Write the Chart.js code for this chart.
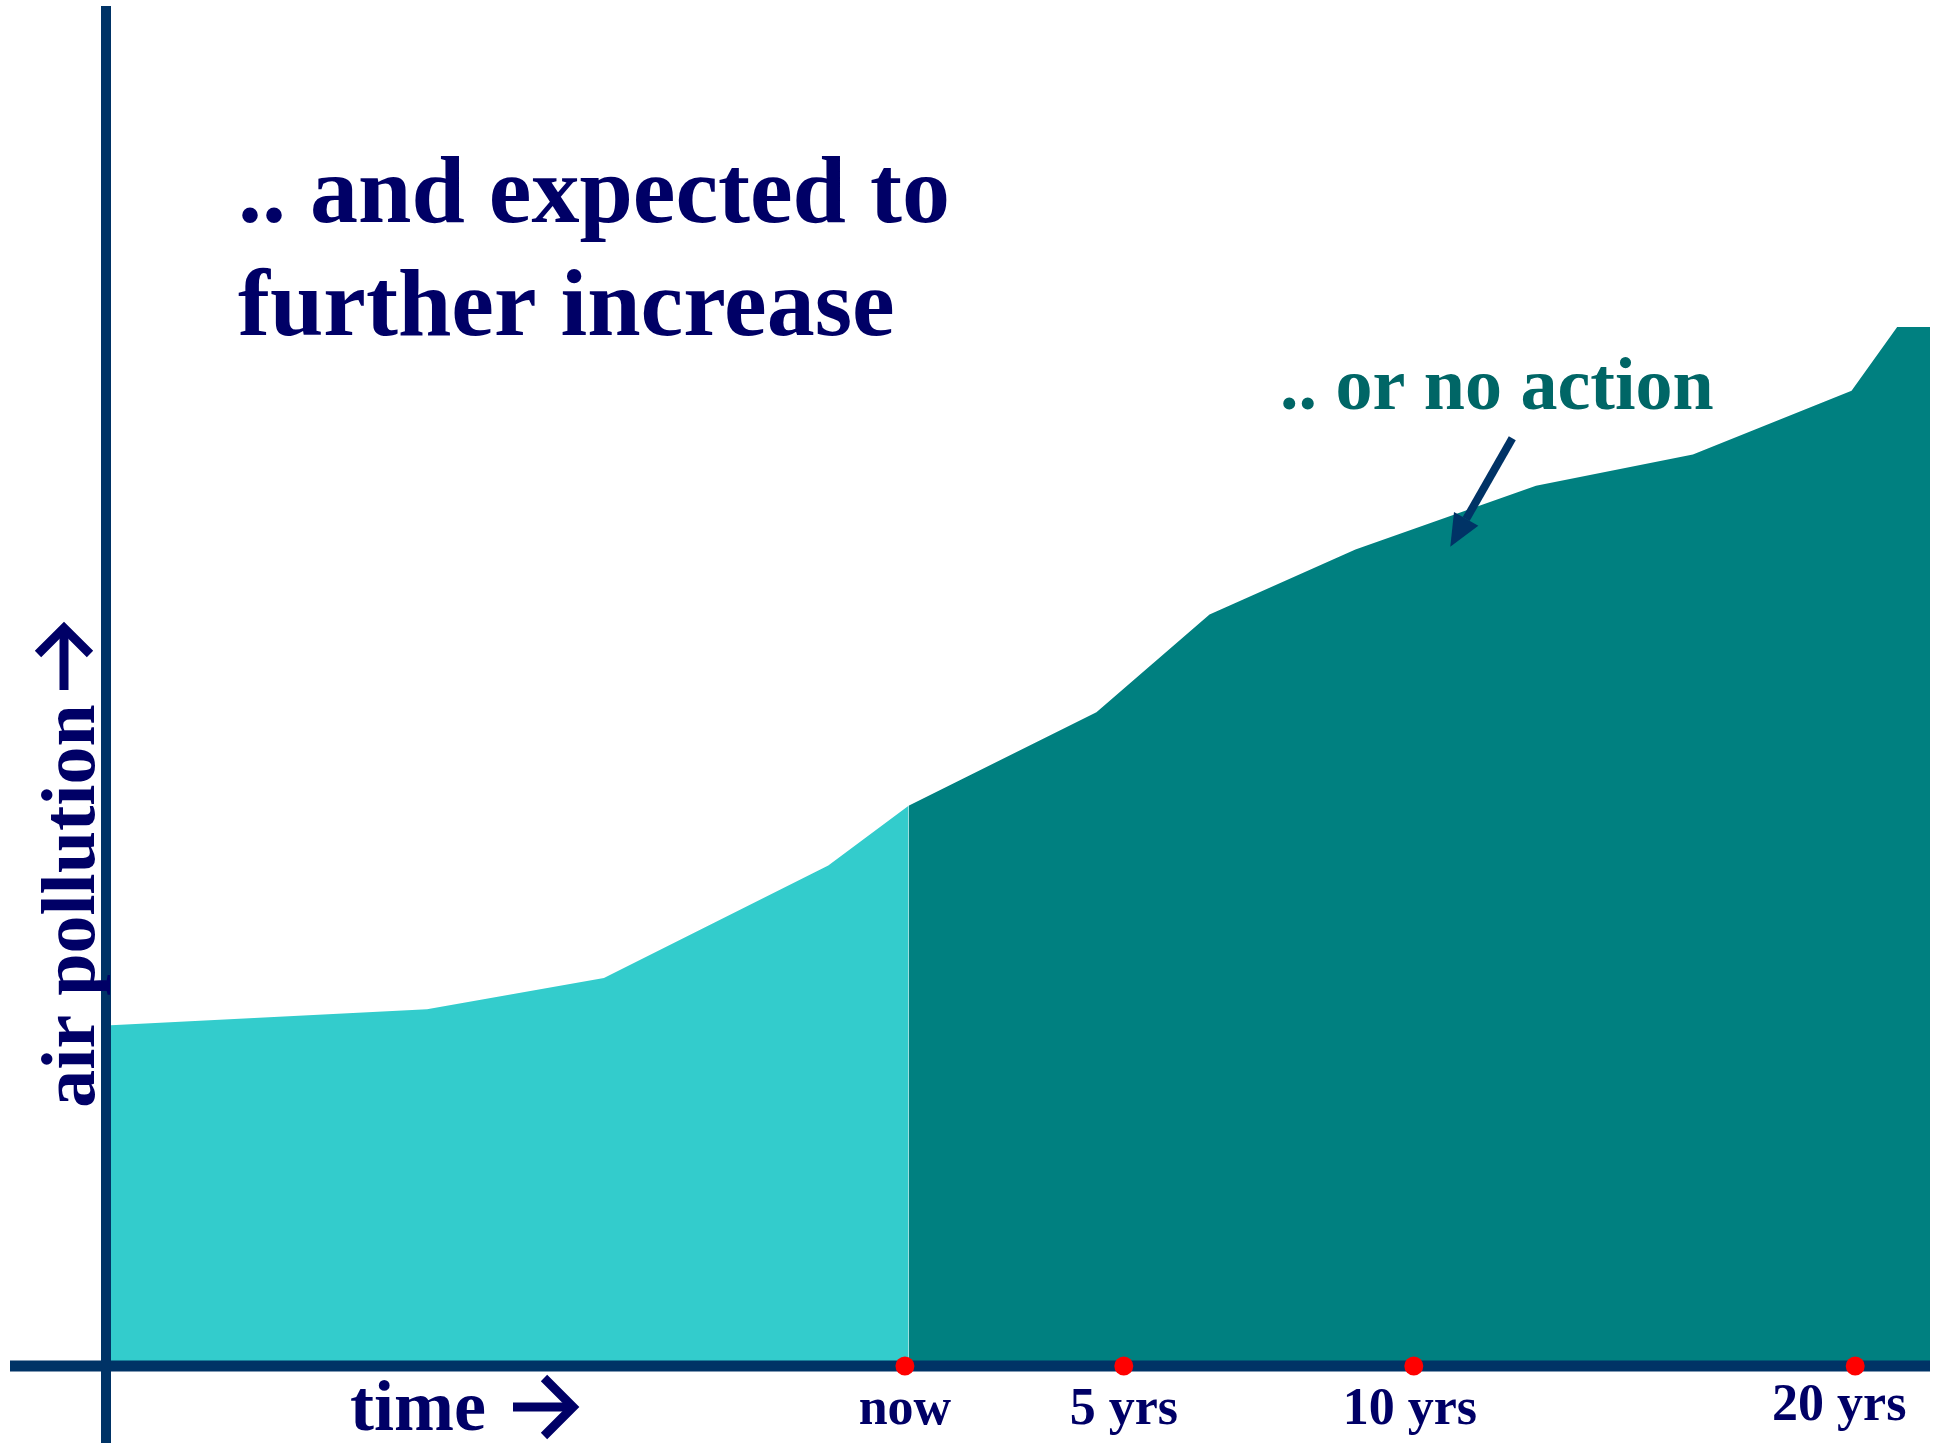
<!DOCTYPE html>
<html>
<head>
<meta charset="utf-8">
<script src="https://cdn.jsdelivr.net/npm/chart.js@4.4.0/dist/chart.umd.min.js"></script>
<style>
html, body { margin: 0; padding: 0; background: #fff; }
</style>
</head>
<body>
<canvas id="chart0" width="1942" height="1443"></canvas>
<script>
var ctx = document.getElementById('chart0').getContext('2d');

// past (up to now) - light area
var pastX = [0, 17.6, 27.3, 39.6, 44.0];
var pastY = [25.1, 26.3, 28.6, 36.9, 41.3];
// future with no action - dark area
var futureX = [44.0, 54.3, 60.5, 68.5, 78.4, 87.0, 95.7, 98.2, 100];
var futureY = [41.3, 48.2, 55.4, 60.2, 64.9, 67.2, 71.9, 76.6, 76.6];
// time marks on the x axis
var tickX = [43.8, 55.8, 71.7, 95.9];
var tickLabels = ['now', '5 yrs', '10 yrs', '20 yrs'];

function toPoints(xs, ys) {
    return xs.map(function (x, i) { return { x: x, y: ys[i] }; });
}

var serif = '"Liberation Serif", "Times New Roman", serif';

// chevron arrow, tip at (tx, ty), pointing along angle ang
function drawArrow(c, tx, ty, ang, len, head) {
    var cs = Math.cos(ang), sn = Math.sin(ang);
    c.beginPath();
    c.moveTo(tx - len * cs, ty - len * sn);
    c.lineTo(tx - 3 * cs, ty - 3 * sn);
    c.stroke();
    c.beginPath();
    c.moveTo(tx - head * cs - head * sn, ty - head * sn + head * cs);
    c.lineTo(tx, ty);
    c.lineTo(tx - head * cs + head * sn, ty - head * sn - head * cs);
    c.stroke();
}

var decor = {
    id: 'decor',
    beforeDatasetDraw: function (chart, args) {
        // axes go under the red dots but over the areas
        if (args.index !== 0) return;
        var c = chart.ctx, xs = chart.scales.x, ys = chart.scales.y;
        var x0 = xs.getPixelForValue(0), y0 = ys.getPixelForValue(0);
        c.save();
        c.fillStyle = '#003366';
        c.fillRect(10, y0 - 5.5, xs.right - 10, 11);
        c.fillRect(x0 - 5, 6, 10, chart.height - 6);
        c.restore();
    },
    afterDraw: function (chart) {
        var c = chart.ctx, xs = chart.scales.x, ys = chart.scales.y;
        c.save();
        c.fillStyle = '#000066';
        c.strokeStyle = '#000066';
        c.textBaseline = 'alphabetic';

        // title
        c.font = 'bold 96px ' + serif;
        c.textAlign = 'left';
        c.fillText('.. and expected to', 238, 222);
        c.fillText('further increase', 238, 335);

        // tick labels
        var dx = [0, 0, -4, -16];
        c.font = 'bold 52px ' + serif;
        c.textAlign = 'center';
        tickX.forEach(function (v, i) {
            c.fillText(tickLabels[i], xs.getPixelForValue(v) + dx[i], i === 3 ? 1420 : 1424);
        });

        // axis titles
        c.font = 'bold 72px ' + serif;
        c.textAlign = 'left';
        c.fillText('time', 350, 1430);
        c.lineWidth = 9;
        c.lineCap = 'butt';
        c.lineJoin = 'miter';
        drawArrow(c, 573, 1407, 0, 60, 29);

        c.save();
        c.translate(94, 906);
        c.rotate(-Math.PI / 2);
        c.font = 'bold 76px ' + serif;
        c.textAlign = 'center';
        c.fillText('air pollution', 0, 0);
        c.restore();
        drawArrow(c, 64, 628, -Math.PI / 2, 62, 26);

        // annotation
        c.fillStyle = '#006666';
        c.font = 'bold 74px ' + serif;
        c.textAlign = 'left';
        c.fillText('.. or no action', 1280, 409);

        // pointer to the no-action area
        var ax = xs.getPixelForValue(77.1), ay = ys.getPixelForValue(68.4);
        var bx = xs.getPixelForValue(73.7), by = ys.getPixelForValue(60.4);
        var ang = Math.atan2(by - ay, bx - ax);
        var hl = 32, hw = 14;
        var sx = bx - hl * Math.cos(ang), sy = by - hl * Math.sin(ang);
        c.strokeStyle = '#003366';
        c.fillStyle = '#003366';
        c.lineWidth = 8;
        c.beginPath();
        c.moveTo(ax, ay);
        c.lineTo(sx, sy);
        c.stroke();
        c.beginPath();
        c.moveTo(bx, by);
        c.lineTo(sx + hw * Math.sin(ang), sy - hw * Math.cos(ang));
        c.lineTo(sx - hw * Math.sin(ang), sy + hw * Math.cos(ang));
        c.closePath();
        c.fill();
        c.restore();
    }
};

var chart = new Chart(ctx, {
    type: 'line',
    data: {
        datasets: [{
            type: 'scatter',
            data: tickX.map(function (v) { return { x: v, y: 0 }; }),
            backgroundColor: '#ff0000',
            borderWidth: 0,
            pointRadius: 9.5,
            pointHoverRadius: 9.5,
            clip: false
        }, {
            data: toPoints(pastX, pastY),
            backgroundColor: '#33cccc',
            borderWidth: 0,
            pointRadius: 0,
            tension: 0,
            fill: 'origin'
        }, {
            data: toPoints(futureX, futureY),
            backgroundColor: '#008080',
            borderWidth: 0,
            pointRadius: 0,
            tension: 0,
            fill: 'origin'
        }]
    },
    options: {
        responsive: false,
        animation: false,
        layout: { padding: { left: 106, right: 12, top: 6, bottom: 77 } },
        scales: {
            x: { type: 'linear', min: 0, max: 100, display: false },
            y: { type: 'linear', min: 0, max: 100, display: false }
        },
        plugins: {
            legend: { display: false },
            tooltip: { enabled: false }
        }
    },
    plugins: [decor]
});
</script>
</body>
</html>
